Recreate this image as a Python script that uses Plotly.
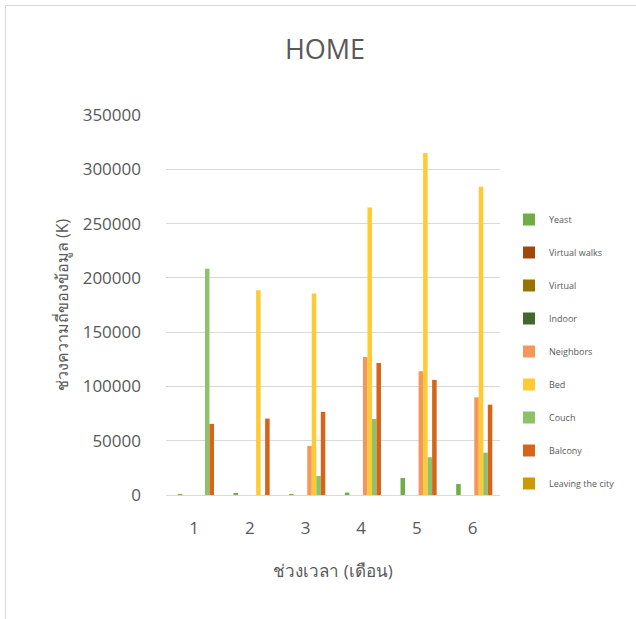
import plotly.graph_objects as go

categories = ["1", "2", "3", "4", "5", "6"]
series_names = ["Yeast", "Virtual walks", "Virtual", "Indoor", "Neighbors",
                "Bed", "Couch", "Balcony", "Leaving the city"]
yeast = [800, 1500, 700, 2200, 15700, 10100]
virtual_walks = [0, 0, 0, 0, 0, 0]
virtual = [0, 0, 0, 0, 0, 0]
indoor = [0, 0, 0, 0, 0, 0]
neighbors = [0, 0, 45200, 127000, 114000, 90000]
bed = [0, 188500, 185700, 264800, 315000, 284000]
couch = [208500, 0, 17500, 70000, 34800, 39000]
balcony = [65500, 70400, 76600, 121500, 106000, 83200]
leaving_the_city = [0, 0, 0, 0, 0, 0]
values = [yeast, virtual_walks, virtual, indoor, neighbors, bed, couch,
          balcony, leaving_the_city]
colors = ["#70AD47", "#9E480E", "#997300", "#43682B", "#F4975B",
          "#FFCA33", "#8DC26A", "#D6641A", "#CC9A06"]

TEXT = "#595959"
FONT = "Open Sans, Noto Sans, sans-serif"

fig = go.Figure()
for i, (name, vals, col) in enumerate(zip(series_names, values, colors)):
    fig.add_trace(go.Bar(x=categories, y=vals, name=name, marker_color=col,
                         marker_line_width=0, legendgroup=name))

W, H = 636, 619
L, R, T, B = 166, 136, 115, 124
pw, ph = W - L - R, H - T - B
shift = 0.078  # category units: groups sit slightly right of label centres

fig.update_layout(
    template="none",
    autosize=False,
    width=W, height=H,
    margin=dict(l=L, r=R, t=T, b=B, autoexpand=False),
    paper_bgcolor="white", plot_bgcolor="white",
    barmode="group", bargap=0.27, bargroupgap=0,
    font=dict(family=FONT, color=TEXT),
    title=dict(text="HOME", x=325 / W, xanchor="center",
               y=1 - 50 / H, yanchor="middle",
               font=dict(size=27, color=TEXT, family=FONT)),
    showlegend=True,
    legend=dict(x=1 + (509 - (L + pw)) / pw, xanchor="left",
                y=1 - (205 - T) / ph, yanchor="top",
                font=dict(size=9, color=TEXT, family=FONT),
                traceorder="grouped", tracegroupgap=14,
                bgcolor="rgba(0,0,0,0)", itemwidth=30),
    xaxis=dict(type="category", range=[-0.5 - shift, 5.5 - shift],
               automargin=False, showgrid=False, showline=True,
               linecolor="#D9D9D9", linewidth=1,
               ticks="", tickfont=dict(size=17, color=TEXT),
               ticklabelstandoff=18, ticklabelshift=-4,
               title=dict(text="ช่วงเวลา (เดือน)", font=dict(size=17, color=TEXT),
                          standoff=26)),
    yaxis=dict(automargin=False, range=[0, 350000], dtick=50000, showgrid=True,
               gridcolor="#D9D9D9", gridwidth=1, zeroline=False, showline=False,
               ticks="", tickfont=dict(size=17, color=TEXT), ticklabelstandoff=24,
               tickformat="d",
               title=dict(text="ช่วงความถี่ของข้อมูล (K)",
                          font=dict(size=16, color=TEXT), standoff=10)),
    shapes=[dict(type="rect", xref="paper", yref="paper",
                 x0=(5.5 - L) / pw, x1=(W + 20 - L) / pw,
                 y0=1 - (H + 20 - T) / ph, y1=1 + (T - 5.5) / ph,
                 line=dict(color="#D9D9D9", width=1), layer="below")],
)

fig.write_html("out.html", config={"displayModeBar": False},
               post_script="document.body.style.margin='0';")
